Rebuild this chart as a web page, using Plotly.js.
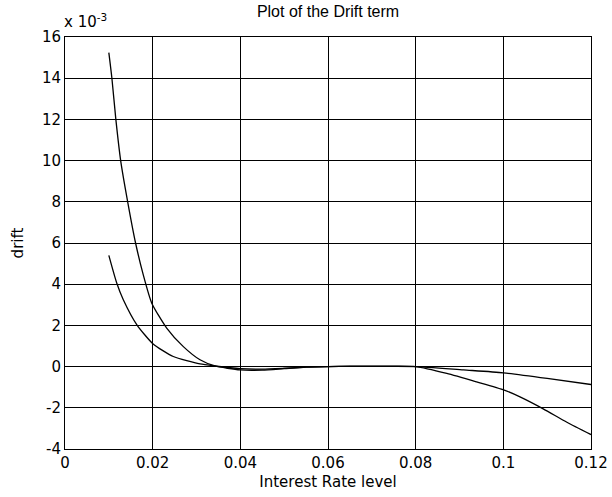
<!DOCTYPE html>
<html>
<head>
<meta charset="utf-8">
<script src="https://cdn.plot.ly/plotly-3.0.1.min.js"></script>
<style>html,body{margin:0;padding:0;background:#fff;}#chart{width:612px;height:497px;}</style>
</head>
<body>
<div id="chart"></div>
<script>
// Interest rate levels and drift values (drift in units of 1e-3)
var rateA = [0.0100, 0.0107, 0.0116, 0.0127, 0.0143, 0.0161, 0.0178, 0.0198, 0.0232, 0.0270, 0.0308, 0.0342, 0.0400, 0.0450, 0.0500, 0.0550, 0.0600, 0.0650, 0.0700, 0.0750, 0.0800, 0.0871, 0.0939, 0.1002, 0.1038, 0.1091, 0.1145, 0.1200];
var driftA = [15.24, 14.0, 12.0, 10.0, 8.0, 6.0, 4.5, 3.08, 1.87, 0.97, 0.33, 0.03, -0.16, -0.17, -0.10, -0.03, 0.0, 0.02, 0.02, 0.02, 0.0, -0.33, -0.74, -1.14, -1.47, -2.05, -2.70, -3.30];
var rateB = [0.0100, 0.0118, 0.0133, 0.0164, 0.0201, 0.0247, 0.0308, 0.0342, 0.0400, 0.0450, 0.0500, 0.0550, 0.0600, 0.0650, 0.0700, 0.0750, 0.0800, 0.0909, 0.1000, 0.1100, 0.1200];
var driftB = [5.40, 4.06, 3.25, 2.03, 1.10, 0.49, 0.13, 0.03, -0.10, -0.12, -0.08, -0.03, 0.0, 0.01, 0.01, 0.01, 0.0, -0.16, -0.30, -0.57, -0.87];
var xTicks = [0, 0.02, 0.04, 0.06, 0.08, 0.1, 0.12];
var xTickText = ['0', '0.02', '0.04', '0.06', '0.08', '0.1', '0.12'];
var yTicks = [-4, -2, 0, 2, 4, 6, 8, 10, 12, 14, 16];
var yTickText = ['-4', '-2', '0', '2', '4', '6', '8', '10', '12', '14', '16'];

var font = {family: 'DejaVu Sans, Arial, sans-serif', size: 15, color: '#000'};
var traces = [
  {x: rateA, y: driftA, mode: 'lines', line: {color: '#000', width: 1.3, shape: 'spline', smoothing: 0.6}, hoverinfo: 'x+y'},
  {x: rateB, y: driftB, mode: 'lines', line: {color: '#000', width: 1.3, shape: 'spline', smoothing: 0.6}, hoverinfo: 'x+y'}
];
var layout = {
  width: 612, height: 497,
  margin: {l: 65, r: 21, t: 37, b: 48},
  paper_bgcolor: '#fff', plot_bgcolor: '#fff',
  showlegend: false,
  font: font,
  title: {text: 'Plot of the Drift term', font: {family: 'Liberation Sans, Arial, sans-serif', size: 16, color: '#000'}, x: 0.536, xanchor: 'center', y: 0.977, yanchor: 'middle'},
  xaxis: {
    range: [0, 0.12], tickvals: xTicks, ticktext: xTickText,
    showgrid: true, gridcolor: '#000', gridwidth: 1,
    showline: true, linecolor: '#000', linewidth: 1, mirror: true,
    ticks: 'inside', ticklen: 4, tickcolor: '#000', zeroline: false,
    tickfont: font,
    title: {text: 'Interest Rate level', font: font, standoff: 5}
  },
  yaxis: {
    range: [-4, 16], tickvals: yTicks, ticktext: yTickText,
    showgrid: true, gridcolor: '#000', gridwidth: 1,
    showline: true, linecolor: '#000', linewidth: 1, mirror: true,
    ticks: 'inside', ticklen: 4, tickcolor: '#000', zeroline: false,
    tickfont: font,
    title: {text: 'drift', font: font, standoff: 14}
  },
  annotations: [
    {text: 'x 10<sup>-3</sup>', xref: 'paper', yref: 'paper', x: 0, y: 1, xanchor: 'left', yanchor: 'bottom', yshift: 4, xshift: -3, showarrow: false, font: font}
  ]
};
Plotly.newPlot('chart', traces, layout, {displayModeBar: false, staticPlot: true});
</script>
</body>
</html>
